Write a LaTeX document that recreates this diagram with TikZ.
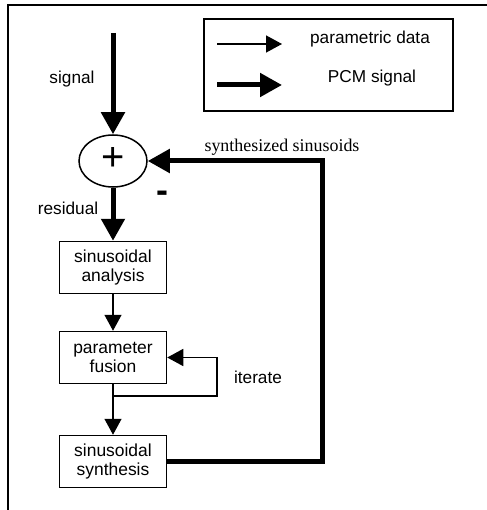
\documentclass[tikz,border=0pt]{standalone}
\usepackage{fontspec}
\setmainfont{Liberation Sans}
\newfontfamily\serifx{Liberation Serif}
\usetikzlibrary{arrows.meta,shapes.geometric}
\begin{document}
\begin{tikzpicture}[x=1bp,y=-1bp,
  lbl/.style={font=\fontsize{17.3}{20}\selectfont, inner sep=0pt},
  blk/.style={draw, line width=1.5bp, minimum width=107bp, minimum height=52bp, align=center, font=\fontsize{17.5}{19.5}\selectfont, inner sep=0pt},
  thinarr/.style={line width=1.5bp, -{Triangle[length=16bp,width=17bp]}},
  thickarr/.style={line width=5bp, -{Triangle[length=22bp,width=23bp]}},
]
\useasboundingbox (0,0) rectangle (487,510);
% outer frame (top and left only)
\coordinate (fbl) at (8,510);
\coordinate (ftl) at (8,5.5);
\coordinate (ftr) at (487,5.5);
\draw[line width=2bp] (fbl) -- (ftl) -- (ftr);
% legend
\node[draw, line width=1.5bp, minimum width=249bp, minimum height=92bp, inner sep=0pt] (legend) at (328.5,65) {};
\coordinate (l1a) at (217,44);
\coordinate (l1b) at (282,44);
\coordinate (l2a) at (217,85);
\coordinate (l2b) at (282,85);
\draw[thinarr] (l1a) -- (l1b);
\draw[thickarr] (l2a) -- (l2b);
\node[lbl] (pd) at (370,39) {parametric data};
\node[lbl] (pcm) at (372,78) {PCM signal};
% summing junction
\node[draw, ellipse, line width=1.5bp, minimum width=68bp, minimum height=52bp, inner sep=0pt] (sum) at (113,161) {};
\node[font=\fontsize{40}{40}\selectfont, inner sep=0pt] (plus) at (113.5,159.5) {+};
\node[font=\fontsize{36}{36}\selectfont\bfseries, inner sep=0pt] (minus) at (162,197) {-};
% blocks
\node[blk] (ana) at (113,267.5) {sinusoidal\\analysis};
\node[blk] (fus) at (113,357.5) {parameter\\fusion};
\node[blk] (syn) at (113,461.5) {sinusoidal\\synthesis};
% input
\coordinate (sigtop) at (113,33);
\draw[thickarr] (sigtop) -- (sum.north);
\node[lbl] (siglbl) at (72,79) {signal};
% residual
\draw[thickarr] (sum.south) -- (ana.north);
\node[lbl] (reslbl) at (68,208) {residual};
% thin arrows
\draw[thinarr] (ana.south) -- (fus.north);
\draw[thinarr] (fus.south) -- (syn.north);
\coordinate (it) at (217,396);
\draw[thinarr] (fus.south |- it) -- (it) |- (fus.east);
\node[lbl] (itlbl) at (258,377) {iterate};
% feedback
\coordinate (fb) at (322,300);
\draw[thickarr] (syn.east) -| (fb) |- (sum.east);
\node[font=\serifx\fontsize{18}{20}\selectfont, inner sep=0pt] (synlbl) at (282,147) {synthesized sinusoids};
\end{tikzpicture}
\end{document}
